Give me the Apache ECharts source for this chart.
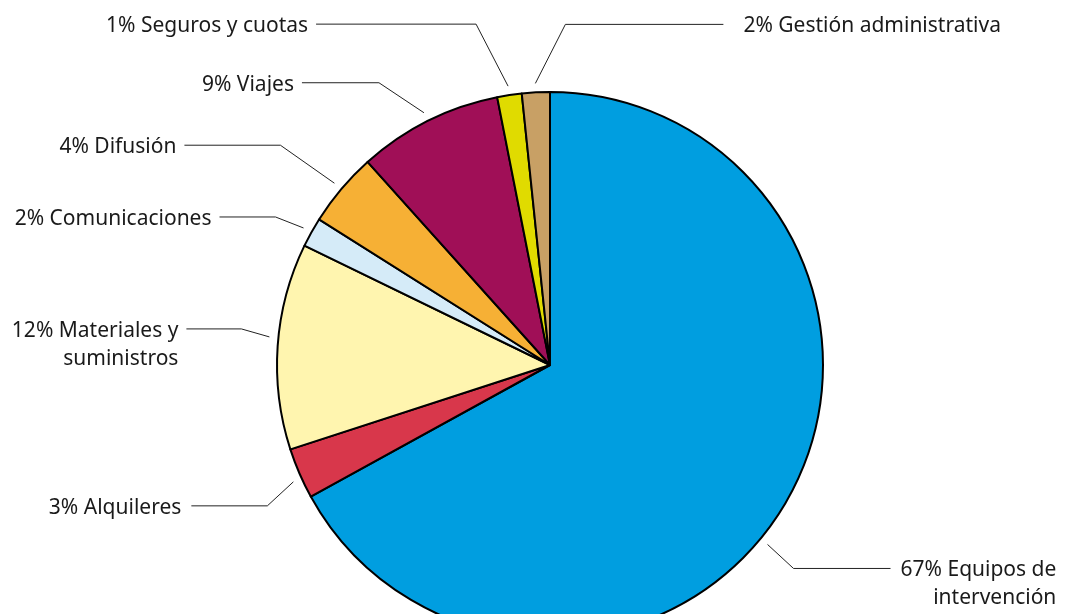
<!DOCTYPE html>
<html><head><meta charset="utf-8">
<script src="https://cdn.jsdelivr.net/npm/echarts@6/dist/echarts.min.js"></script>
<style>html,body{margin:0;padding:0;background:#fff}#c{width:1075px;height:614px}</style>
</head><body><div id="c"></div>
<script>
const categories = ['Equipos de\nintervención', 'Alquileres', 'Materiales y\nsuministros', 'Comunicaciones', 'Difusión', 'Viajes', 'Seguros y cuotas', 'Gestión administrativa'];
const values = [67.0, 3.0, 12.2, 1.75, 4.4, 8.55, 1.45, 1.65];
const colors = ['#009EE0', '#D8374B', '#FFF5AF', '#D5EBF8', '#F6B035', '#A00F57', '#E0DB00', '#C8A065'];

// leader-line styling per label: anchor fraction along slice, elbow offset, horizontal run, text gap
const leaderAnchor = [0.537, 0.4, 0.54, 0.5, 0.5, 0.5, 0.5, 0.5];
const leaderElbowDx = [26, -26, -28, -28, -54, -45, -32, 30];
const leaderElbowDy = [24, 24, -8, -11, -38, -30, -62, -59];
const leaderRun = [97, 76, 55, 56, 96, 77, 160, 158];
const leaderGap = [10, 10, 8, 8, 8, 8, 8, 20];

const CX = 550, CY = 365, RAD = 273, LINE_R = 282, LH = 28;
const total = values.reduce((a, b) => a + b, 0);
const cumStart = [];
values.reduce((acc, v, i) => { cumStart[i] = acc; return acc + v / total * 360; }, 0);

const chart = echarts.init(document.getElementById('c'), null, { renderer: 'canvas' });
chart.setOption({
  animation: false,
  backgroundColor: '#fff',
  series: [{
    type: 'pie',
    center: [CX, CY],
    radius: RAD,
    startAngle: 90,
    clockwise: true,
    avoidLabelOverlap: false,
    data: categories.map((n, i) => ({ name: n, value: values[i], itemStyle: { color: colors[i] } })),
    itemStyle: { borderColor: '#000', borderWidth: 2 },
    label: {
      show: true,
      formatter: p => Math.round(p.value) + '% ' + p.name,
      fontFamily: 'Noto Sans',
      fontSize: 21,
      lineHeight: LH,
      color: '#1a1a1a'
    },
    labelLine: { show: true, lineStyle: { color: '#222', width: 1 } },
    labelLayout: function (params) {
      const i = params.dataIndex;
      const th = (cumStart[i] + leaderAnchor[i] * values[i] / total * 360) * Math.PI / 180;
      const sx = CX + LINE_R * Math.sin(th), sy = CY - LINE_R * Math.cos(th);
      const ex = sx + leaderElbowDx[i], ey = sy + leaderElbowDy[i];
      const side = Math.sign(leaderElbowDx[i]);
      const hx = ex + side * leaderRun[i];
      const w = params.labelRect.width;
      const x = side > 0 ? hx + leaderGap[i] + w : hx - leaderGap[i];
      return {
        x: x, y: ey - LH / 2 + 2,
        align: 'right', verticalAlign: 'top',
        labelLinePoints: [[sx, sy], [ex, ey], [hx, ey]]
      };
    }
  }]
});
</script></body></html>
